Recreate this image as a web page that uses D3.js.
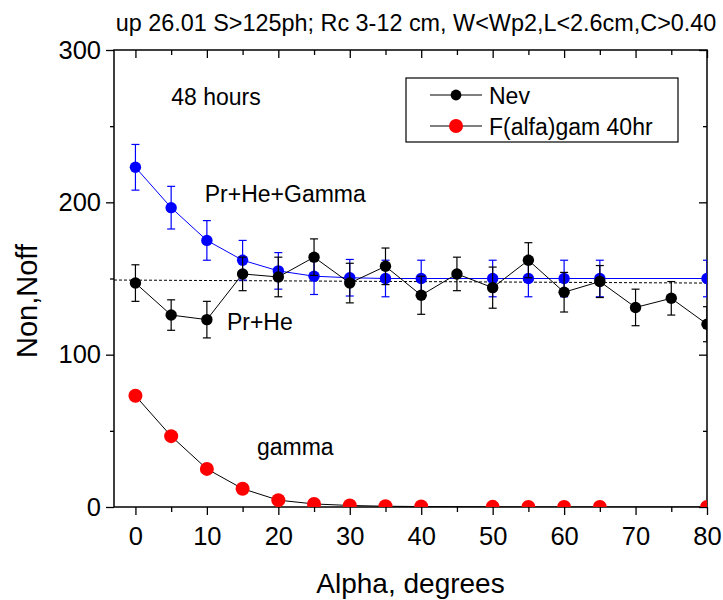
<!DOCTYPE html>
<html>
<head>
<meta charset="utf-8">
<script src="https://cdn.jsdelivr.net/npm/d3@7"></script>
<style>
  body { margin: 0; background: #fff; }
  svg text { font-family: "Liberation Sans", Arial, sans-serif; fill: #000; }
</style>
</head>
<body>
<div id="chart"></div>
<script>
// measured counts per alpha bin
const alpha = [0, 5, 10, 15, 20, 25, 30, 35, 40, 45, 50, 55, 60, 65, 70, 75, 80];
const nev = [147, 126, 123, 153, 151, 164, 147, 158, 139, 153, 144, 162, 141, 148, 131, 137, 120];
const nevErr = [12, 10, 12, 11, 13, 12, 13, 12, 12.5, 11, 13.5, 11.5, 13, 10.5, 12, 11, 11.5];

// expected curves (background + gamma)
const alphaSim = [0, 5, 10, 15, 20, 25, 30, 35, 40, 50, 55, 60, 65, 80];
const sumAll = [223, 196.5, 175, 162, 155, 151.5, 150.5, 150, 150, 150, 150, 150, 150, 150];
const sumAllErr = [15, 14, 13, 13, 12, 12, 12, 12, 12, 12, 12, 12, 12, 12];
const gam = [73, 46.5, 25, 12, 4.5, 2, 1, 0.5, 0.3, 0.1, 0, 0, 0, 0];

// background level (dotted)
const bgX = [-3, 80];
const bgY = [149, 147];

const xTicks = [0, 10, 20, 30, 40, 50, 60, 70, 80];
const xMinor = [5, 15, 25, 35, 45, 55, 65, 75];
const yTicks = [0, 100, 200, 300];
const yMinor = [50, 150, 250];

const width = 723;
const height = 600;
const margin = { top: 50, right: 16, bottom: 93, left: 114 };
const W = width - margin.left - margin.right;
const H = height - margin.top - margin.bottom;

const svg = d3.select("#chart").append("svg")
  .attr("width", width)
  .attr("height", height);

const g = svg.append("g").attr("transform", `translate(${margin.left},${margin.top})`);

const x = d3.scaleLinear().domain([-3, 80]).range([0, W]);
const y = d3.scaleLinear().domain([0, 300]).range([H, 0]);

svg.append("defs").append("clipPath").attr("id", "clip")
  .append("rect").attr("width", W).attr("height", H);

// axes
const tickFont = "25.5px";
function styleAxis(sel) {
  sel.select(".domain").remove();
  sel.selectAll("line").attr("stroke", "#000").attr("stroke-width", 1.3);
  sel.selectAll("text").style("font-size", tickFont).attr("fill", "#000");
}

g.append("g").attr("transform", `translate(0,${H})`)
  .call(d3.axisBottom(x).tickValues(xTicks).tickSize(8).tickPadding(12))
  .call(styleAxis);
g.append("g").attr("transform", `translate(0,${H})`)
  .call(d3.axisBottom(x).tickValues(xMinor).tickSize(5).tickFormat(""))
  .call(styleAxis);
g.append("g")
  .call(d3.axisTop(x).tickValues(xTicks).tickSize(-8).tickFormat(""))
  .call(styleAxis);
g.append("g")
  .call(d3.axisTop(x).tickValues(xMinor).tickSize(-5).tickFormat(""))
  .call(styleAxis);

g.append("g")
  .call(d3.axisLeft(y).tickValues(yTicks).tickSize(8).tickPadding(5))
  .call(styleAxis);
g.append("g")
  .call(d3.axisLeft(y).tickValues(yMinor).tickSize(4).tickFormat(""))
  .call(styleAxis);
g.append("g").attr("transform", `translate(${W},0)`)
  .call(d3.axisRight(y).tickValues(yTicks).tickSize(-8).tickFormat(""))
  .call(styleAxis);
g.append("g").attr("transform", `translate(${W},0)`)
  .call(d3.axisRight(y).tickValues(yMinor).tickSize(-4).tickFormat(""))
  .call(styleAxis);

g.append("rect")
  .attr("width", W).attr("height", H)
  .attr("fill", "none").attr("stroke", "#000").attr("stroke-width", 1.5);

const plot = g.append("g").attr("clip-path", "url(#clip)");

// dotted background level
plot.append("path")
  .datum(bgX.map((d, i) => [d, bgY[i]]))
  .attr("d", d3.line().x(d => x(d[0])).y(d => y(d[1])))
  .attr("fill", "none").attr("stroke", "#000").attr("stroke-width", 1)
  .attr("stroke-dasharray", "3,2");

function errBars(xs, vs, es, color) {
  const eb = plot.append("g").attr("stroke", color).attr("stroke-width", 1.2);
  xs.forEach((a, i) => {
    const top = y(vs[i] + es[i]), bot = y(vs[i] - es[i]), cx = x(a);
    eb.append("line").attr("x1", cx).attr("x2", cx).attr("y1", top).attr("y2", bot);
    eb.append("line").attr("x1", cx - 4).attr("x2", cx + 4).attr("y1", top).attr("y2", top);
    eb.append("line").attr("x1", cx - 4).attr("x2", cx + 4).attr("y1", bot).attr("y2", bot);
  });
}

function series(xs, vs, lineColor, dotColor, r) {
  const pts = xs.map((a, i) => [a, vs[i]]);
  plot.append("path").datum(pts)
    .attr("d", d3.line().x(d => x(d[0])).y(d => y(d[1])))
    .attr("fill", "none").attr("stroke", lineColor).attr("stroke-width", 1);
  plot.append("g").selectAll("circle").data(pts).enter().append("circle")
    .attr("cx", d => x(d[0])).attr("cy", d => y(d[1]))
    .attr("r", r).attr("fill", dotColor);
}

// Pr+He+Gamma (blue)
errBars(alphaSim, sumAll, sumAllErr, "#0000ff");
series(alphaSim, sumAll, "#0000ff", "#0000ff", 5.7);

// Nev (black)
errBars(alpha, nev, nevErr, "#000");
series(alpha, nev, "#000", "#000", 5.7);

// gamma (red)
series(alphaSim, gam, "#000", "#ff0000", 7);

// annotations
const ann = [
  { t: "48 hours", a: 5, v: 264 },
  { t: "Pr+He+Gamma", a: 9.7, v: 200 },
  { t: "Pr+He", a: 12.8, v: 116 },
  { t: "gamma", a: 17, v: 34 }
];
g.selectAll(".ann").data(ann).enter().append("text")
  .attr("class", "ann")
  .attr("x", d => x(d.a)).attr("y", d => y(d.v))
  .style("font-size", "23px")
  .text(d => d.t);

// legend
const leg = g.append("g").attr("transform", `translate(${406 - margin.left},${78 - margin.top})`);
leg.append("rect").attr("width", 272).attr("height", 64)
  .attr("fill", "#fff").attr("stroke", "#000").attr("stroke-width", 1.2);
const legItems = [
  { t: "Nev", c: "#000", r: 5.4 },
  { t: "F(alfa)gam 40hr", c: "#ff0000", r: 7 }
];
legItems.forEach((d, i) => {
  const cy = 17 + i * 31;
  leg.append("line").attr("x1", 24).attr("x2", 76).attr("y1", cy).attr("y2", cy)
    .attr("stroke", "#000").attr("stroke-width", 1);
  leg.append("circle").attr("cx", 50).attr("cy", cy).attr("r", d.r).attr("fill", d.c);
  leg.append("text").attr("x", 83).attr("y", cy + 8.5)
    .style("font-size", "23px").text(d.t);
});

// titles
svg.append("text")
  .attr("x", 416).attr("y", 31)
  .attr("text-anchor", "middle")
  .style("font-size", "23.4px")
  .text("up 26.01 S>125ph; Rc 3-12 cm, W<Wp2,L<2.6cm,C>0.40");

svg.append("text")
  .attr("x", margin.left + W / 2).attr("y", 593)
  .attr("text-anchor", "middle")
  .style("font-size", "28px")
  .text("Alpha, degrees");

svg.append("text")
  .attr("transform", "translate(37,301) rotate(-90)")
  .attr("text-anchor", "middle")
  .style("font-size", "29px")
  .text("Non,Noff");
</script>
</body>
</html>
